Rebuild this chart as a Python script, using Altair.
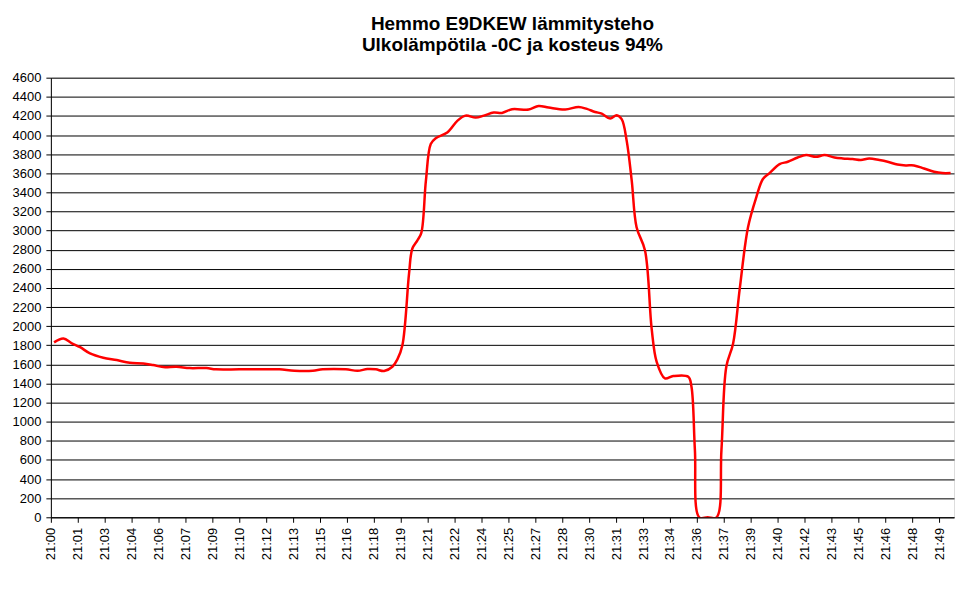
import altair as alt
import pandas as pd

# minutes after 21:00 and heating power (W)
minutes = [0.18, 0.7, 1.17, 1.63, 2.18, 2.92, 3.67, 4.4, 5.15, 5.7, 6.26, 7.0, 7.74, 8.67,
           9.2, 10.5, 12.0, 12.74, 13.57, 14.6, 15.15, 16.44, 17.09, 17.64, 18.11, 18.57,
           19.03, 19.31, 19.59, 19.96, 20.14, 20.42, 20.64, 20.9, 21.17, 21.45, 22.09,
           22.65, 23.11, 23.67, 24.13, 24.68, 25.14, 25.7, 26.63, 27.18, 27.74, 28.66,
           29.41, 29.87, 30.33, 30.7, 31.17, 31.53, 31.81, 32.09, 32.37, 32.64, 33.11,
           33.48, 33.76, 34.22, 34.68, 35.52, 35.7, 35.89, 36.13, 36.6, 37.1, 37.37,
           37.64, 38.02, 38.39, 38.85, 39.31, 39.68, 40.05, 40.61, 41.07, 41.62, 42.09,
           42.64, 43.11, 43.67, 44.13, 44.68, 45.14, 45.6, 46.17, 46.63, 47.18, 47.64,
           48.1, 48.66, 49.22, 49.68, 50.14]
power = [1830, 1870, 1820, 1780, 1715, 1670, 1645, 1617, 1610, 1593, 1572, 1575, 1561, 1561,
         1548, 1548, 1548, 1548, 1533, 1533, 1548, 1548, 1533, 1551, 1548, 1530,
         1575, 1652, 1801, 2549, 2810, 2896, 2973, 3522, 3905, 3967, 4026,
         4148, 4203, 4182, 4203, 4235, 4231, 4270, 4266, 4304, 4287, 4266,
         4294, 4273, 4241, 4224, 4172, 4207, 4166, 3939, 3522, 3035, 2792,
         1975, 1627, 1454, 1478, 1471, 1366, 706, 0, 0, 0, 706,
         1575, 1819, 2393, 3035, 3348, 3540, 3602, 3696, 3720, 3765, 3790,
         3772, 3790, 3765, 3755, 3748, 3738, 3755, 3738, 3720, 3692, 3682,
         3682, 3650, 3616, 3602, 3602]

tick_labels = ["21:00", "21:01", "21:03", "21:04", "21:06", "21:07", "21:09", "21:10",
               "21:12", "21:13", "21:15", "21:16", "21:18", "21:19", "21:21", "21:22",
               "21:24", "21:25", "21:27", "21:28", "21:30", "21:31", "21:33", "21:34",
               "21:36", "21:37", "21:39", "21:40", "21:42", "21:43", "21:45", "21:46",
               "21:48", "21:49"]
tick_minutes = [i * 1.5 for i in range(len(tick_labels))]
y_ticks = list(range(0, 4601, 200))

df = pd.DataFrame({"min": minutes, "w": power})

label_arr = "[" + ",".join("'" + t + "'" for t in tick_labels) + "]"

chart = alt.Chart(df).mark_line(
    color="#FF0000", strokeWidth=2.5, interpolate="catmull-rom", clip=True
).encode(
    x=alt.X("min:Q", scale=alt.Scale(domain=[0, 50.33], nice=False, zero=False),
            axis=alt.Axis(values=tick_minutes, title=None, grid=False,
                          labelExpr=label_arr + "[round(datum.value/1.5)]",
                          labelAngle=-90, labelFont="Liberation Sans", labelFontSize=13,
                          labelColor="#000000", labelPadding=5, tickSize=5,
                          tickColor="#000000", domainColor="#000000", labelOverlap=False)),
    y=alt.Y("w:Q", scale=alt.Scale(domain=[0, 4600], nice=False),
            axis=alt.Axis(values=y_ticks, title=None, grid=True, gridColor="#000000",
                          gridWidth=1, gridOpacity=1, labelFont="Liberation Sans",
                          labelFontSize=13, labelColor="#000000", tickSize=5, format="d",
                          tickColor="#000000", domainColor="#000000", labelPadding=5,
                          labelOverlap=False)),
).properties(
    width=906, height=441,
    title=alt.TitleParams(["Hemmo E9DKEW lämmitysteho", "Ulkolämpötila -0C ja kosteus 94%"],
                          font="Liberation Sans", fontSize=19, fontWeight="bold",
                          color="#000000", anchor="middle", lineHeight=21, offset=17, dx=10),
    autosize=alt.AutoSizeParams(type="none"),
    padding={"left": 43, "top": 69, "right": 5, "bottom": 60},
).configure_view(
    fill="#C0C0C0", stroke="#808080", strokeWidth=1
).configure(background="#FFFFFF")

chart.save("out.html", embed_options={"renderer": "svg", "actions": False})
